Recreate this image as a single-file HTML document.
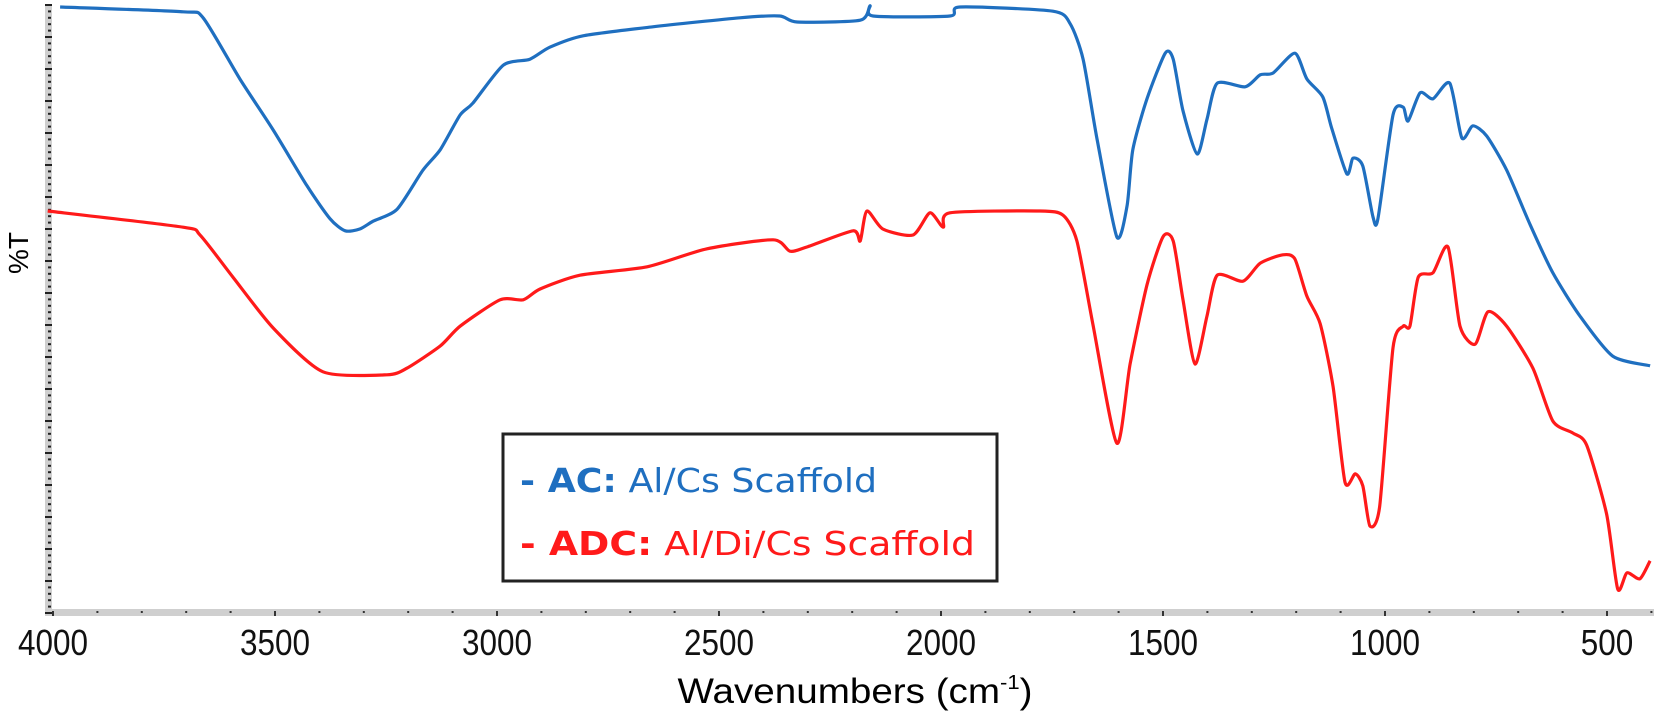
<!DOCTYPE html>
<html><head><meta charset="utf-8"><style>
html,body{margin:0;padding:0;background:#fff;}
svg{display:block;font-family:"Liberation Sans",sans-serif;}
</style></head><body>
<svg id="chart" width="1654" height="713" viewBox="0 0 1654 713" xmlns="http://www.w3.org/2000/svg">
<g id="axes"></g>
<g id="series"></g>
<text x="0" y="0" transform="translate(28,253) rotate(-90)" text-anchor="middle" font-size="28">%T</text>
<text x="855" y="703" text-anchor="middle" font-size="35" textLength="355" lengthAdjust="spacingAndGlyphs">Wavenumbers (cm<tspan font-size="20" dy="-14">-1</tspan><tspan dy="14">)</tspan></text>
<g>
<rect x="503" y="434" width="494" height="147" fill="#fff" stroke="#222" stroke-width="3"/>
<text x="520" y="492" font-size="33" fill="#1f6fc0" font-family="'DejaVu Sans','Liberation Sans',sans-serif" textLength="357" lengthAdjust="spacingAndGlyphs"><tspan font-weight="bold">- AC:</tspan> Al/Cs Scaffold</text>
<text x="520" y="555" font-size="33" fill="#ff1a1a" font-family="'DejaVu Sans','Liberation Sans',sans-serif" textLength="455" lengthAdjust="spacingAndGlyphs"><tspan font-weight="bold">- ADC:</tspan>  Al/Di/Cs Scaffold</text>
</g>
</svg>
<script>
const xTicks = [4000,3500,3000,2500,2000,1500,1000,500];
const acWn = [3984,3707,3662,3579,3504,3428,3376,3342,3309,3279,3225,3167,3128,3083,3054,2986,2926,2881,2806,2649,2453,2363,2324,2182,2160,2153,1980,1957,1748,1709,1680,1649,1604,1581,1568,1536,1495,1477,1455,1423,1401,1378,1315,1281,1252,1203,1176,1140,1120,1086,1072,1050,1027,1016,982,959,948,921,892,854,827,802,771,726,673,622,561,487,403];
const acT = [101,100.2,99.2,89,80.5,71.2,65.7,63.7,64,65.3,67.3,73.8,77.2,83,85,91.3,92.3,94.3,96.2,97.7,99.2,99.5,98.5,98.8,101.2,99.5,99.5,101,100.3,98.2,92.3,79.2,62.7,67.8,77.2,85.7,93.3,92.3,83.7,76.5,82.3,88.3,87.7,89.7,90,93.3,89,86,80.8,73.2,75.8,74.5,66,65.7,83,84.3,82,86.7,85.7,88.3,79.2,81.2,79.5,73.8,64.7,56.7,49.5,42.8,41.2];
const adcWn = [4012,3707,3669,3595,3504,3392,3248,3203,3128,3083,2993,2941,2903,2813,2662,2527,2378,2340,2302,2198,2182,2167,2131,2063,2025,1995,1980,1777,1725,1694,1658,1604,1574,1536,1500,1477,1455,1428,1401,1378,1320,1281,1230,1203,1176,1146,1117,1090,1067,1050,1034,1012,982,959,944,925,892,858,831,797,768,726,667,622,577,546,501,476,455,426,403];
const adcT = [67,64.3,63,56,47.5,40.2,39.7,40.8,44.5,47.8,52.2,52.2,54,56.3,57.7,60.7,62.2,60.3,61,63.7,62,67,64,63,66.7,64.3,66.7,67,66.3,62,48.2,28.3,41.5,54.7,62.7,62,52.2,41.5,49.5,56.3,55.3,58.3,59.7,59,52.8,48.2,37.7,21.8,23.2,21.2,14.5,17.8,44.2,47.8,47.8,56,56.7,61,47.8,44.8,50.2,47.8,40.8,32,30,28,16.5,4,6.7,5.7,8.7];

const NS="http://www.w3.org/2000/svg";
const X0=53, X1=1607, W0=4000, W1=500, AX_Y=613;
function xs(w){return X0+(W0-w)*(X1-X0)/(W0-W1);}
function ys(t){return AX_Y-t*6;}
const axes=document.getElementById('axes');
function mk(tag,attrs,parent){const e=document.createElementNS(NS,tag);for(const k in attrs)e.setAttribute(k,attrs[k]);parent.appendChild(e);return e;}

const xb=mk('rect',{x:48,y:609,width:1606,height:7,fill:'#cfcfcf'},axes);


const yb=mk('rect',{x:45,y:4,width:7,height:612,fill:'#cfcfcf'},axes);


for(let i=0;i<=19*5;i++){
  const y=613-i*32/5; if(y<4)break;
  const major=i%5===0;
  const t=mk('rect',{x:major?45:48,y:y-1,width:major?7:3,height:2,fill:'#222'},axes);
  
  
}
for(let w=4000;w>=400;w-=100){
  const x=xs(w);
  const m=mk('rect',{x:x-1,y:611,width:2,height:w%500===0?5:2,fill:'#333'},axes);
  
  
}
xTicks.forEach(v=>{
  const t=mk('text',{x:xs(v),y:655,'text-anchor':'middle','font-size':'36',textLength:(String(v).length*17.5),lengthAdjust:'spacingAndGlyphs',fill:'#111'},axes);
  t.textContent=v;
  
  
});
const ser=document.getElementById('series');
function line(wn,tv,color,name){
  const P=wn.map((w,i)=>[xs(w),ys(tv[i])]);
  let d='M'+P[0][0].toFixed(1)+','+P[0][1].toFixed(1);
  for(let i=0;i<P.length-1;i++){
    const p0=P[Math.max(0,i-1)],p1=P[i],p2=P[i+1],p3=P[Math.min(P.length-1,i+2)];
    const k=0.12;
    const c1=[p1[0]+(p2[0]-p0[0])*k,p1[1]+(p2[1]-p0[1])*k];
    const c2=[p2[0]-(p3[0]-p1[0])*k,p2[1]-(p3[1]-p1[1])*k];
    d+='C'+c1[0].toFixed(1)+','+c1[1].toFixed(1)+' '+c2[0].toFixed(1)+','+c2[1].toFixed(1)+' '+p2[0].toFixed(1)+','+p2[1].toFixed(1);
  }
  const p=mk('path',{d:d,fill:'none',stroke:color,'stroke-width':'3.2','stroke-linejoin':'round'},ser);
  
  
}
line(acWn,acT,'#1f6fc0','ac-spectrum');
line(adcWn,adcT,'#ff1a1a','adc-spectrum');
</script>
</body></html>
